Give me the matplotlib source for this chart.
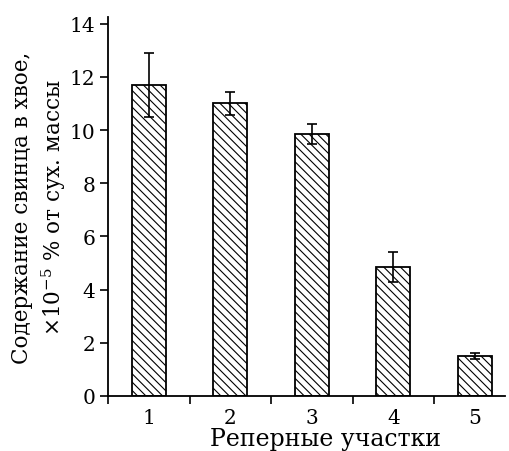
import matplotlib
matplotlib.use("Agg")
import matplotlib.pyplot as plt

categories = ["1", "2", "3", "4", "5"]
values = [11.7, 11.0, 9.85, 4.85, 1.5]
errors = [1.2, 0.42, 0.36, 0.57, 0.11]
yticks = [0, 2, 4, 6, 8, 10, 12, 14]

plt.rcParams['font.family'] = ['DejaVu Serif']
plt.rcParams['mathtext.fontset'] = 'dejavuserif'
plt.rcParams['hatch.linewidth'] = 0.8

fig = plt.figure(figsize=(5.09, 4.52), dpi=100)
ax = fig.add_axes([108/509, 55/452, (505-108)/509, (397-18)/452])

x = list(range(1, len(categories) + 1))
ax.bar(x, values, width=0.42, color='white', edgecolor='black', linewidth=1.3,
       hatch='\\\\\\\\', zorder=2)
ax.errorbar(x, values, yerr=errors, fmt='none', ecolor='black', elinewidth=1.2,
            capsize=3.6, capthick=1.2, zorder=3)

ax.set_xlim(0.5, 5.37)
ax.set_ylim(0, 14.25)
ax.set_yticks(yticks)
ax.set_xticks([i + 0.5 for i in range(0, 5)])
ax.set_xticklabels([])
ax.set_xticks(x, minor=True)
ax.set_xticklabels(categories, minor=True)
ax.tick_params(axis='x', which='minor', length=0, pad=9, labelsize=14.5)
ax.tick_params(axis='x', which='major', direction='out', length=6, width=1.2)
ax.tick_params(axis='y', direction='out', length=6, width=1.2, labelsize=14.5, pad=3)

for s in ['top', 'right']:
    ax.spines[s].set_visible(False)
for s in ['left', 'bottom']:
    ax.spines[s].set_linewidth(1.3)

ax.set_xlabel("Реперные участки", fontsize=17, labelpad=3)
ax.xaxis.set_label_coords(0.549, -0.082)
ax.set_ylabel("Содержание свинца в хвое,\n$\\times 10^{-5}$ % от сух. массы",
              fontsize=15.5, linespacing=1.3, labelpad=1)

fig.savefig("out.png", dpi=100)
